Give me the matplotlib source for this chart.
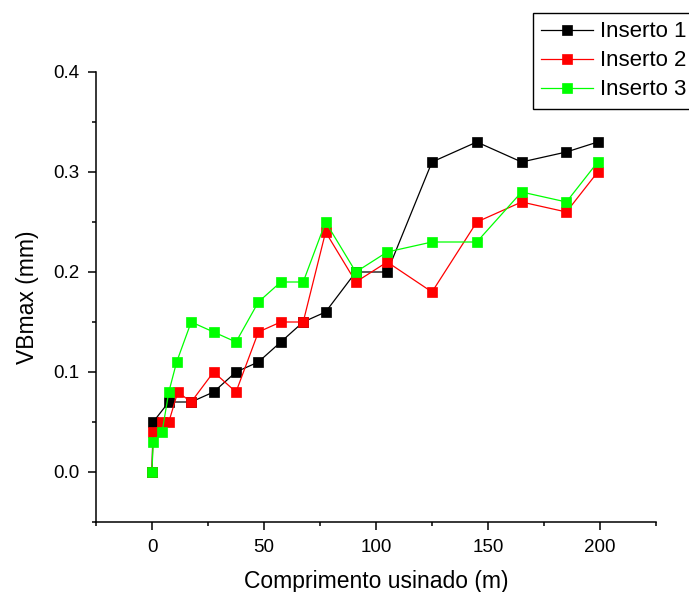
import matplotlib
matplotlib.use("Agg")
import matplotlib.pyplot as plt
from matplotlib.ticker import MultipleLocator

plt.rcParams["font.family"] = ["Liberation Sans", "DejaVu Sans"]

# Cutting length (m) and flank wear VBmax (mm) for each insert
x_ins1 = [0, 0.5, 7.5, 17.5, 27.5, 37.5, 47.5, 57.5, 67.5, 77.5, 91, 105, 125, 145, 165, 185, 199]
vb_ins1 = [0.0, 0.05, 0.07, 0.07, 0.08, 0.10, 0.11, 0.13, 0.15, 0.16, 0.20, 0.20, 0.31, 0.33, 0.31, 0.32, 0.33]

x_ins2 = [0, 0.5, 4.5, 7.5, 11.5, 17.5, 27.5, 37.5, 47.5, 57.5, 67.5, 77.5, 91, 105, 125, 145, 165, 185, 199]
vb_ins2 = [0.0, 0.04, 0.05, 0.05, 0.08, 0.07, 0.10, 0.08, 0.14, 0.15, 0.15, 0.24, 0.19, 0.21, 0.18, 0.25, 0.27, 0.26, 0.30]

x_ins3 = [0, 0.5, 4.5, 7.5, 11, 17.5, 27.5, 37.5, 47.5, 57.5, 67.5, 77.5, 91, 105, 125, 145, 165, 185, 199]
vb_ins3 = [0.0, 0.03, 0.04, 0.08, 0.11, 0.15, 0.14, 0.13, 0.17, 0.19, 0.19, 0.25, 0.20, 0.22, 0.23, 0.23, 0.28, 0.27, 0.31]

series = [
    (x_ins1, vb_ins1, "#000000", "Inserto 1"),
    (x_ins2, vb_ins2, "#FF0000", "Inserto 2"),
    (x_ins3, vb_ins3, "#00FF00", "Inserto 3"),
]

fig = plt.figure(figsize=(6.89, 5.92), dpi=100)
ax = fig.add_axes([96 / 689, 1 - 522 / 592, (656 - 96) / 689, (522 - 72) / 592])

for xs, ys, color, label in series:
    ax.plot(xs, ys, color=color, linewidth=0.9, marker="s", markersize=7.5,
            markerfacecolor=color, markeredgecolor=color, markeredgewidth=0.5,
            label=label)

ax.set_xlim(-25, 225)
ax.set_ylim(-0.05, 0.4)
ax.xaxis.set_major_locator(MultipleLocator(50))
ax.xaxis.set_minor_locator(MultipleLocator(25))
ax.yaxis.set_major_locator(MultipleLocator(0.1))
ax.yaxis.set_minor_locator(MultipleLocator(0.05))
ax.yaxis.set_major_formatter(plt.FormatStrFormatter("%.1f"))

ax.spines["top"].set_visible(False)
ax.spines["right"].set_visible(False)
for side in ("left", "bottom"):
    ax.spines[side].set_linewidth(1.1)

ax.tick_params(which="major", direction="out", length=6, width=1.1, labelsize=13.5, pad=6)
ax.tick_params(which="minor", direction="out", length=3, width=1.1)

ax.set_xlabel("Comprimento usinado (m)", fontsize=16.5, labelpad=10)
ax.set_ylabel("VBmax (mm)", fontsize=16.5, labelpad=10)

leg = fig.legend(loc="upper left", bbox_to_anchor=(533 / 689, 1 - 13 / 592),
                 fontsize=16, frameon=True, fancybox=False, framealpha=1,
                 edgecolor="black", handlelength=2.3, handletextpad=0.35,
                 labelspacing=0.36, borderpad=0.38, borderaxespad=0)
leg.get_frame().set_linewidth(1.0)

fig.savefig("out.png", dpi=100)
